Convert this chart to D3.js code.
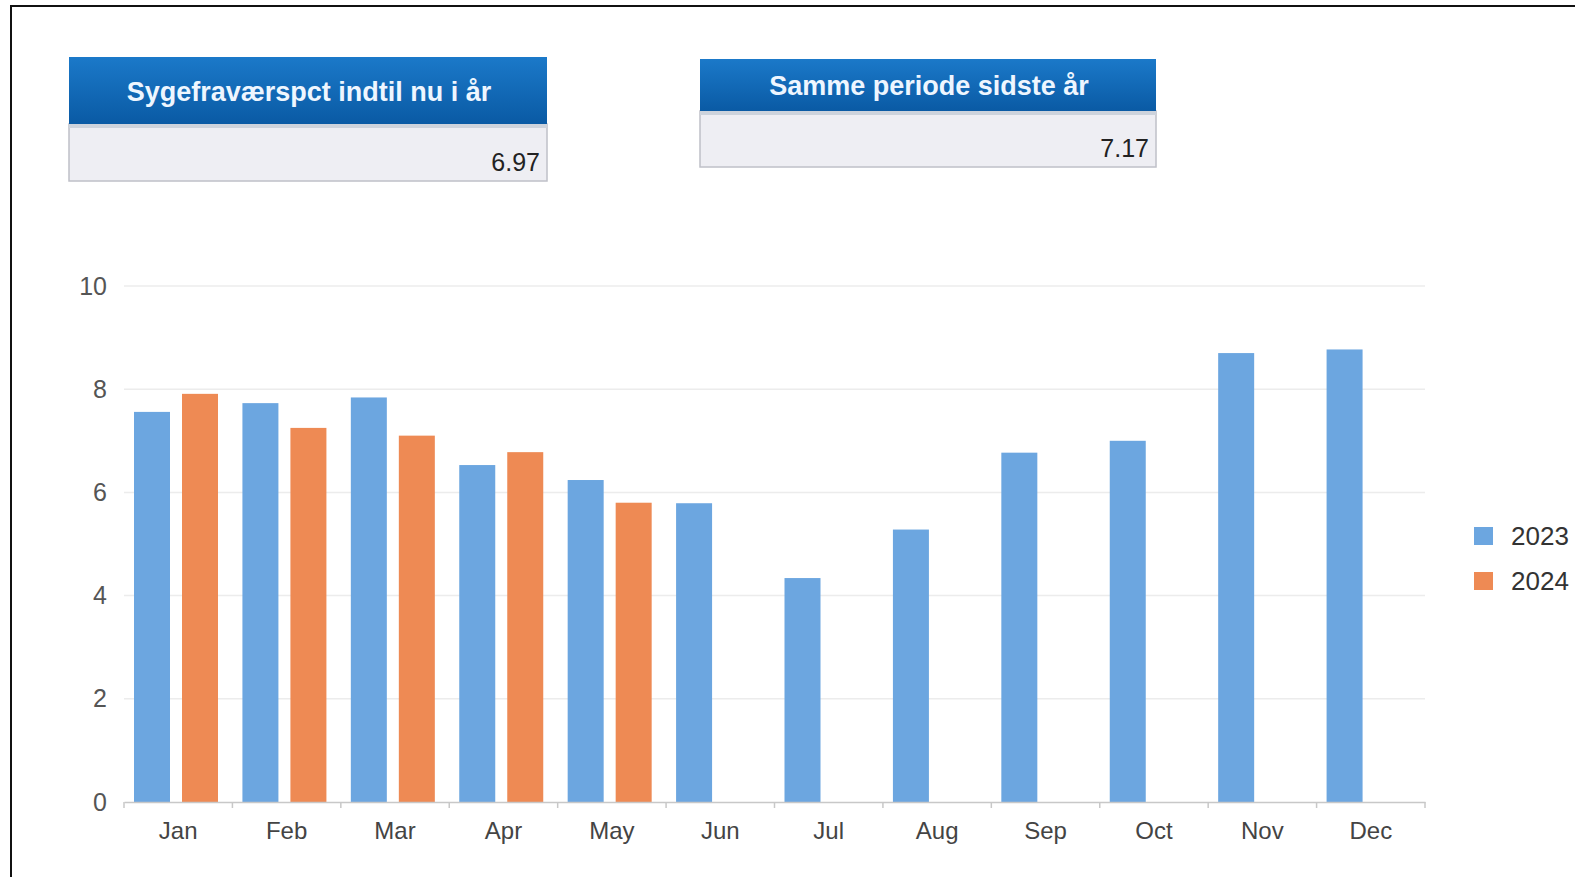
<!DOCTYPE html>
<html>
<head>
<meta charset="utf-8">
<script src="https://cdn.jsdelivr.net/npm/d3@7"></script>
<style>
  body { margin: 0; background: #fff; }
  svg { display: block; font-family: "Liberation Sans", Arial, sans-serif; }
</style>
</head>
<body>
<svg id="chart" width="1575" height="877"></svg>
<script>
// data
var months = ["Jan", "Feb", "Mar", "Apr", "May", "Jun", "Jul", "Aug", "Sep", "Oct", "Nov", "Dec"];
var years = ["2023", "2024"];
var values2023 = [7.56, 7.73, 7.84, 6.53, 6.24, 5.79, 4.34, 5.28, 6.77, 7.00, 8.70, 8.77];
var values2024 = [7.91, 7.25, 7.10, 6.78, 5.80, null, null, null, null, null, null, null];
var yTicks = [0, 2, 4, 6, 8, 10];
var kpiTitles = ["Sygefraværspct indtil nu i år", "Samme periode sidste år"];
var kpiValues = ["6.97", "7.17"];

var colors = { "2023": "#6ca6e0", "2024": "#ee8a54" };

var svg = d3.select("#chart");

// outer frame
svg.append("path")
	.attr("d", "M11,877 V6 H1575")
	.attr("fill", "none")
	.attr("stroke", "#111")
	.attr("stroke-width", 2);

// kpi boxes
var defs = svg.append("defs");
var grad = defs.append("linearGradient").attr("id", "hdr").attr("x1", 0).attr("y1", 0).attr("x2", 0).attr("y2", 1);
grad.append("stop").attr("offset", "0%").attr("stop-color", "#1b79c9");
grad.append("stop").attr("offset", "100%").attr("stop-color", "#0a5aa4");

var kpiBoxes = [
	{ x: 69, y: 57, w: 478, head: 67, body: 57 },
	{ x: 700, y: 59, w: 456, head: 52, body: 56 }
];

kpiBoxes.forEach(function (b, i) {
	var g = svg.append("g").attr("transform", "translate(" + b.x + "," + b.y + ")");
	g.append("rect")
		.attr("x", 0).attr("y", b.head)
		.attr("width", b.w).attr("height", b.body)
		.attr("fill", "#eeeef3")
		.attr("stroke", "#bfc0c8")
		.attr("stroke-width", 1.5);
	g.append("rect")
		.attr("x", 0).attr("y", b.head)
		.attr("width", b.w).attr("height", 4)
		.attr("fill", "#cdd3dc");
	g.append("rect")
		.attr("x", 0).attr("y", 0)
		.attr("width", b.w).attr("height", b.head)
		.attr("fill", "url(#hdr)");
	g.append("text")
		.attr("x", b.w / 2 + 1)
		.attr("y", b.head / 2 + 10)
		.attr("text-anchor", "middle")
		.attr("fill", "#eef6ff")
		.attr("font-size", 27)
		.attr("font-weight", "bold")
		.text(kpiTitles[i]);
	g.append("text")
		.attr("x", b.w - 7)
		.attr("y", b.head + b.body - 10)
		.attr("text-anchor", "end")
		.attr("fill", "#222")
		.attr("font-size", 25)
		.text(kpiValues[i]);
});

// chart
var x0 = d3.scaleBand().domain(months).range([124, 1425]).padding(0);
var x1 = d3.scaleBand().domain(years).range([10, 94]).paddingInner(0.25);
var y = d3.scaleLinear().domain([0, 10]).range([802, 286]);

// grid
svg.append("g")
	.selectAll("line")
	.data(yTicks.filter(function (d) { return d > 0; }))
	.join("line")
	.attr("x1", x0.range()[0]).attr("x2", x0.range()[1])
	.attr("y1", function (d) { return y(d); })
	.attr("y2", function (d) { return y(d); })
	.attr("stroke", "#ececec")
	.attr("stroke-width", 1.5);

// bars
var rows = months.map(function (m, i) {
	return { month: m, vals: [ { year: "2023", v: values2023[i] }, { year: "2024", v: values2024[i] } ] };
});

svg.append("g")
	.selectAll("g")
	.data(rows)
	.join("g")
	.attr("transform", function (d) { return "translate(" + x0(d.month) + ",0)"; })
	.selectAll("rect")
	.data(function (d) { return d.vals.filter(function (e) { return e.v != null; }); })
	.join("rect")
	.attr("x", function (d) { return x1(d.year); })
	.attr("width", x1.bandwidth())
	.attr("y", function (d) { return y(d.v); })
	.attr("height", function (d) { return y(0) - y(d.v); })
	.attr("fill", function (d) { return colors[d.year]; });

// x axis
var xAxis = svg.append("g")
	.attr("transform", "translate(0," + y(0) + ")")
	.call(d3.axisBottom(x0).tickSize(0).tickPadding(20));
xAxis.select(".domain").attr("stroke", "#c8c8c8").attr("stroke-width", 1.5);
xAxis.selectAll("text").attr("font-size", 24).attr("fill", "#444").attr("font-family", null);

// category dividers below the axis
xAxis.append("g")
	.selectAll("line")
	.data(months.concat(["end"]))
	.join("line")
	.attr("x1", function (d) { return d === "end" ? x0.range()[1] : x0(d); })
	.attr("x2", function (d) { return d === "end" ? x0.range()[1] : x0(d); })
	.attr("y1", 0).attr("y2", 6)
	.attr("stroke", "#c8c8c8")
	.attr("stroke-width", 1.5);

// y axis
var yAxis = svg.append("g")
	.attr("transform", "translate(124,0)")
	.call(d3.axisLeft(y).tickValues(yTicks).tickSize(0).tickPadding(17));
yAxis.select(".domain").remove();
yAxis.selectAll("text").attr("font-size", 25).attr("fill", "#555").attr("font-family", null);

// legend
var legend = svg.append("g").attr("transform", "translate(1474,527)");
var li = legend.selectAll("g")
	.data(years)
	.join("g")
	.attr("transform", function (d, i) { return "translate(0," + (i * 45) + ")"; });
li.append("rect")
	.attr("width", 19).attr("height", 18)
	.attr("fill", function (d) { return colors[d]; });
li.append("text")
	.attr("x", 37).attr("y", 18)
	.attr("font-size", 26)
	.attr("fill", "#333")
	.text(function (d) { return d; });
</script>
</body>
</html>
